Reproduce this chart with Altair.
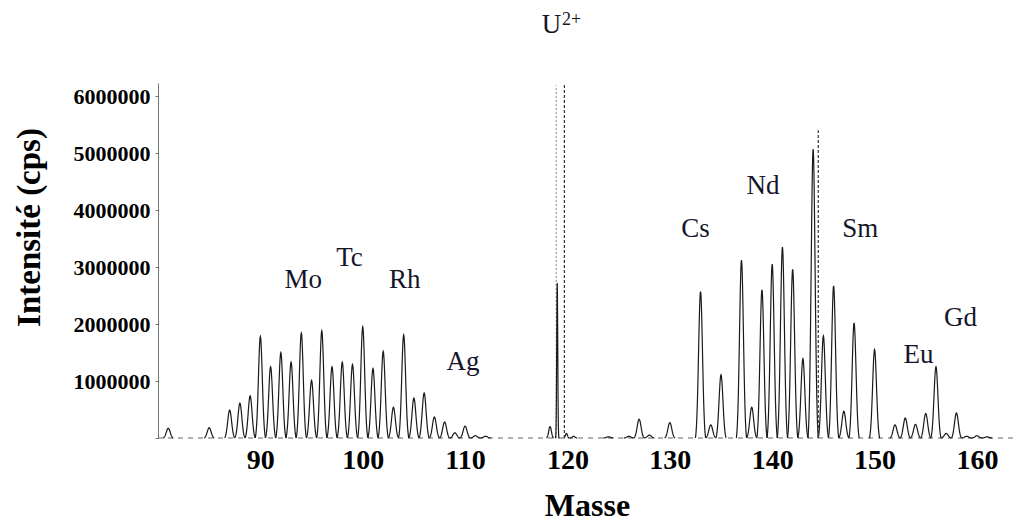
import altair as alt
import numpy as np
import pandas as pd

# ---- peak lists (mass, intensity in cps) ----
left_mass = [81, 85, 87, 88, 89, 90, 91, 92, 93, 94, 95, 96, 97, 98, 99, 100,
             101, 102, 103, 104, 105, 106, 107, 108, 109, 110, 111, 112]
left_int = [170000, 180000, 490000, 610000, 740000, 1780000, 1250000, 1500000,
            1330000, 1840000, 1010000, 1880000, 1250000, 1330000, 1290000,
            1950000, 1220000, 1520000, 540000, 1810000, 700000, 790000,
            370000, 280000, 90000, 210000, 40000, 30000]

u_mass = [118.3, 119.0, 119.9, 120.6]
u_int = [200000, 2720000, 80000, 30000]
u_width = [0.13, 0.05, 0.1, 0.12]
u_half = [0.35, 0.2, 0.3, 0.35]

right_mass = [124, 126, 127, 128, 130, 133, 134, 135, 137, 138, 139, 140, 141,
              142, 143, 144, 145, 146, 147, 148, 150, 152, 153, 154, 155, 156,
              157, 158, 159, 160, 161]
right_int = [20000, 30000, 330000, 50000, 270000, 2570000, 230000, 1110000,
             3120000, 540000, 2600000, 3050000, 3350000, 2960000, 1390000,
             5070000, 1790000, 2670000, 470000, 2020000, 1550000, 230000,
             350000, 240000, 430000, 1250000, 80000, 440000, 30000, 40000,
             20000]

# annotation labels
elem_names = ["Mo", "Tc", "Rh", "Ag", "Cs", "Nd", "Sm", "Eu", "Gd"]
elem_mass = [94.2, 98.7, 104.1, 109.8, 132.5, 139.1, 148.6, 154.3, 158.4]
elem_int = [2770000, 3160000, 2770000, 1330000, 3670000, 4420000, 3670000,
            1460000, 2110000]

# dashed marker lines (mass, top)
marker_mass = [118.9, 119.7, 144.5]
marker_top = [6190000, 6230000, 5400000]

x_ticks = [90, 100, 110, 120, 130, 140, 150, 160]
y_ticks = list(range(0, 6000001, 500000))

X_DOMAIN = [80.0, 163.72]
Y_DOMAIN = [0, 6230000]

# ---- build peak profiles (each peak drawn over its own mass window) ----
rows = []
pid = 0
def add_peaks(masses, ints, widths, halfs):
    global pid
    for m, h, s, hw in zip(masses, ints, widths, halfs):
        e0 = np.exp(-0.5 * (hw / s) ** 2)
        for o in np.linspace(-hw, hw, 41):
            v = (np.exp(-0.5 * (o / s) ** 2) - e0) / (1 - e0)
            rows.append({"pid": pid, "mass": m + o, "int": h * max(v, 0.0)})
        pid += 1

add_peaks(left_mass, left_int, [0.19] * len(left_mass), [0.5] * len(left_mass))
add_peaks(u_mass, u_int, u_width, u_half)
add_peaks(right_mass, right_int, [0.19] * len(right_mass), [0.5] * len(right_mass))
spec = pd.DataFrame(rows)

FONT = "Liberation Serif"

xscale = alt.Scale(domain=X_DOMAIN, nice=False, zero=False)
yscale = alt.Scale(domain=Y_DOMAIN, nice=False)

peaks = alt.Chart(spec).mark_line(color="#1a1a1a", strokeWidth=1.2).encode(
    x=alt.X("mass:Q", scale=xscale,
            axis=alt.Axis(values=x_ticks, domain=False, ticks=False, grid=False,
                          labelFont=FONT, labelFontWeight="bold", labelFontSize=28,
                          labelColor="black", labelPadding=8,
                          title="Masse", titleFont=FONT, titleFontWeight="bold",
                          titleFontSize=32, titleColor="black",
                          titleX=429, titleY=77, titleAlign="center",
                          titleBaseline="alphabetic")),
    y=alt.Y("int:Q", scale=yscale,
            axis=alt.Axis(values=y_ticks, format="d",
                          labelExpr="(datum.value > 0 && datum.value % 1000000 == 0) ? datum.label : ''",
                          grid=False, tickSize=3, domainColor="#777",
                          tickColor="#777", labelFont=FONT,
                          labelFontWeight="bold", labelFontSize=22,
                          labelColor="black", labelPadding=5,
                          title="Intensité (cps)", titleFont=FONT,
                          titleFontWeight="bold", titleFontSize=33,
                          titleColor="black", titleX=-129, titleY=144,
                          titleAngle=-90, titleAlign="center",
                          titleBaseline="middle")),
    detail="pid:N",
)

base_df = pd.DataFrame({"x1": [X_DOMAIN[0]], "x2": [X_DOMAIN[1]], "y": [0]})
baseline = alt.Chart(base_df).mark_rule(color="#666", strokeWidth=1,
                                        strokeDash=[5, 5]).encode(
    x=alt.X("x1:Q", scale=xscale), x2="x2:Q", y=alt.Y("y:Q", scale=yscale))

mk = pd.DataFrame({"m": marker_mass, "top": marker_top, "zero": [0, 0, 0],
                   "kind": ["light", "dark", "dark"]})
markers_light = alt.Chart(mk[mk.kind == "light"]).mark_rule(
    color="#888", strokeWidth=1, strokeDash=[2, 2]).encode(
    x=alt.X("m:Q", scale=xscale), y=alt.Y("zero:Q", scale=yscale), y2="top:Q")
markers_dark = alt.Chart(mk[mk.kind == "dark"]).mark_rule(
    color="#333", strokeWidth=1.2, strokeDash=[3, 2]).encode(
    x=alt.X("m:Q", scale=xscale), y=alt.Y("zero:Q", scale=yscale), y2="top:Q")

lab = pd.DataFrame({"name": elem_names, "m": elem_mass, "v": elem_int})
labels = alt.Chart(lab).mark_text(font=FONT, fontSize=27, color="#15152a").encode(
    x=alt.X("m:Q", scale=xscale), y=alt.Y("v:Q", scale=yscale), text="name:N")

u_df = pd.DataFrame({"m": [118.45], "v": [7250000], "t": ["U"], "s": ["2+"]})
u_lab = alt.Chart(u_df).mark_text(font=FONT, fontSize=27, color="#15152a").encode(
    x=alt.X("m:Q", scale=xscale), y=alt.Y("v:Q", scale=yscale), text="t:N")
u_sup = alt.Chart(u_df).mark_text(font=FONT, fontSize=18, color="#15152a",
                                  dx=20, dy=-5).encode(
    x=alt.X("m:Q", scale=xscale), y=alt.Y("v:Q", scale=yscale), text="s:N")

chart = alt.layer(baseline, markers_light, peaks, markers_dark, labels,
                  u_lab, u_sup).properties(
    width=857, height=355,
    padding={"left": 150, "top": 75, "right": 0, "bottom": 84},
    autosize=alt.AutoSizeParams(type="none"),
    background="white",
).configure_view(stroke=None)

chart.save("out.html", embed_options={"renderer": "svg", "actions": False})
